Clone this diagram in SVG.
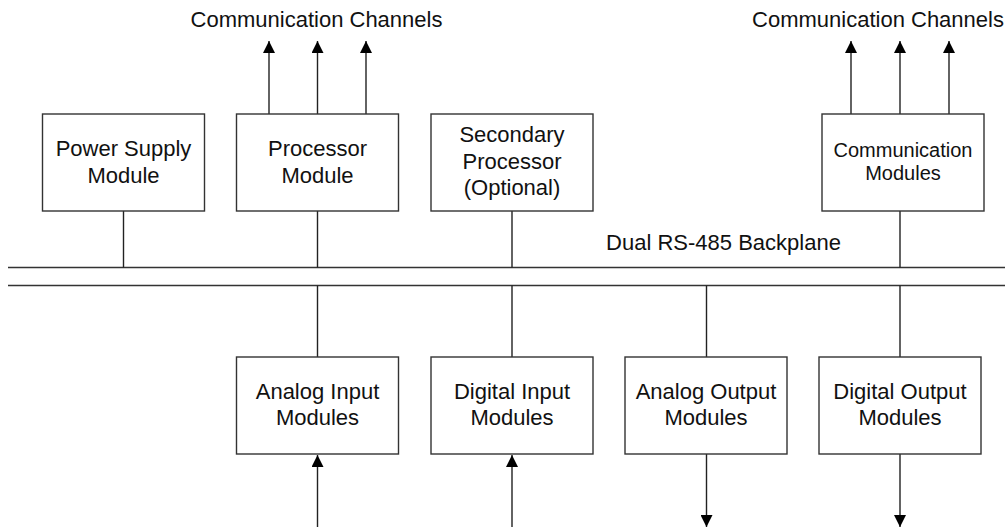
<svg xmlns="http://www.w3.org/2000/svg" width="1005" height="527" viewBox="0 0 1005 527">
<style>
.box{fill:#fff;stroke:#333;stroke-width:1.4}
.t{font-family:"Liberation Sans",Arial,sans-serif;font-size:22px;fill:#111;text-anchor:middle}
.ts{font-family:"Liberation Sans",Arial,sans-serif;font-size:20px;fill:#111;text-anchor:middle}
.ln{stroke:#222;stroke-width:1.4;fill:none}
.bus{stroke:#333;stroke-width:1.4;fill:none}
</style>
<defs>
<marker id="ah" viewBox="0 0 12 12" refX="12" refY="6" markerWidth="12" markerHeight="12" markerUnits="userSpaceOnUse" orient="auto">
<path d="M0,0 L12,6 L0,12 Z" fill="#000"/>
</marker>
</defs>
<rect width="1005" height="527" fill="#fff"/>
<g id="labels">
<text class="t" x="316.5" y="27">Communication Channels</text>
<text class="t" x="878" y="27">Communication Channels</text>
<text class="t" x="723.5" y="250">Dual RS-485 Backplane</text>
</g>
<g id="connectors">
<line class="bus" x1="8" y1="267.5" x2="1005" y2="267.5"/>
<line class="bus" x1="8" y1="285.5" x2="1005" y2="285.5"/>
<line class="ln" x1="123.5" y1="211" x2="123.5" y2="267.5"/>
<line class="ln" x1="317.5" y1="211" x2="317.5" y2="267.5"/>
<line class="ln" x1="512" y1="211" x2="512" y2="267.5"/>
<line class="ln" x1="900" y1="211" x2="900" y2="267.5"/>
<line class="ln" x1="317.5" y1="285.5" x2="317.5" y2="357"/>
<line class="ln" x1="512" y1="285.5" x2="512" y2="357"/>
<line class="ln" x1="706.5" y1="285.5" x2="706.5" y2="357"/>
<line class="ln" x1="900" y1="285.5" x2="900" y2="357"/>
<line class="ln" x1="269" y1="114" x2="269" y2="41" marker-end="url(#ah)"/>
<line class="ln" x1="317.5" y1="114" x2="317.5" y2="41" marker-end="url(#ah)"/>
<line class="ln" x1="366" y1="114" x2="366" y2="41" marker-end="url(#ah)"/>
<line class="ln" x1="851" y1="114" x2="851" y2="41" marker-end="url(#ah)"/>
<line class="ln" x1="900" y1="114" x2="900" y2="41" marker-end="url(#ah)"/>
<line class="ln" x1="949" y1="114" x2="949" y2="41" marker-end="url(#ah)"/>
<line class="ln" x1="317.5" y1="527" x2="317.5" y2="455" marker-end="url(#ah)"/>
<line class="ln" x1="512" y1="527" x2="512" y2="455" marker-end="url(#ah)"/>
<line class="ln" x1="706.5" y1="454" x2="706.5" y2="527" marker-end="url(#ah)"/>
<line class="ln" x1="900" y1="454" x2="900" y2="527" marker-end="url(#ah)"/>
</g>
<g id="power-supply">
<rect class="box" x="42.5" y="114" width="162" height="97"/>
<text class="t" x="123.5" y="156">Power Supply</text>
<text class="t" x="123.5" y="182.5">Module</text>
</g>
<g id="processor">
<rect class="box" x="236.5" y="114" width="162" height="97"/>
<text class="t" x="317.5" y="156">Processor</text>
<text class="t" x="317.5" y="182.5">Module</text>
</g>
<g id="secondary-processor">
<rect class="box" x="431" y="114" width="162" height="97"/>
<text class="t" x="512" y="142">Secondary</text>
<text class="t" x="512" y="168.5">Processor</text>
<text class="t" x="512" y="195">(Optional)</text>
</g>
<g id="communication-modules">
<rect class="box" x="822" y="114" width="162" height="97"/>
<text class="ts" x="903" y="156.5">Communication</text>
<text class="ts" x="903" y="180">Modules</text>
</g>
<g id="analog-input">
<rect class="box" x="236.5" y="357" width="162" height="97"/>
<text class="t" x="317.5" y="398.5">Analog Input</text>
<text class="t" x="317.5" y="425">Modules</text>
</g>
<g id="digital-input">
<rect class="box" x="431" y="357" width="162" height="97"/>
<text class="t" x="512" y="398.5">Digital Input</text>
<text class="t" x="512" y="425">Modules</text>
</g>
<g id="analog-output">
<rect class="box" x="625" y="357" width="162" height="97"/>
<text class="t" x="706" y="398.5">Analog Output</text>
<text class="t" x="706" y="425">Modules</text>
</g>
<g id="digital-output">
<rect class="box" x="819" y="357" width="162" height="97"/>
<text class="t" x="900" y="398.5">Digital Output</text>
<text class="t" x="900" y="425">Modules</text>
</g>
</svg>
